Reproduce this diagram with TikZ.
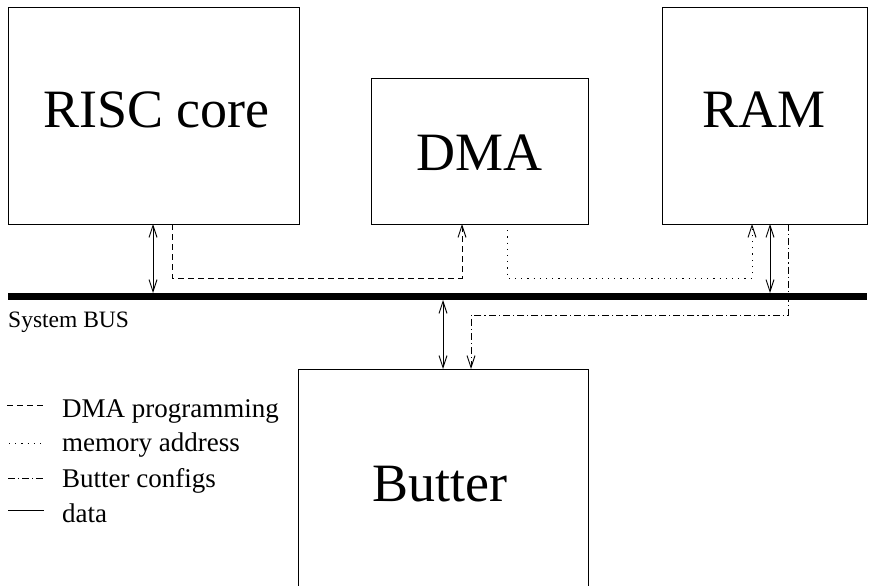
\documentclass[tikz,border=0pt]{standalone}
\usepackage{fontspec}
\setmainfont{Liberation Serif}
\usetikzlibrary{arrows.meta,calc}
\begin{document}
\begin{tikzpicture}[x=1pt,y=-1pt,
  >={Straight Barb[length=12pt,width=8pt]},
  box/.style={draw=black,line width=1pt,inner sep=0pt,outer sep=0pt,fill=none},
  bigtext/.style={inner sep=0pt,anchor=base,font=\fontsize{54}{60}\selectfont},
  legtext/.style={inner sep=0pt,anchor=base west,font=\fontsize{27}{30}\selectfont},
  conn/.style={line width=0.9pt,black},
  datal/.style={conn},
  dmaprog/.style={conn,dash pattern=on 6pt off 4pt},
  memaddr/.style={conn,dash pattern=on 1.2pt off 5pt},
  butcfg/.style={conn,dash pattern=on 7pt off 3pt on 1.2pt off 3pt}
]
\clip (0,0) rectangle (875,586);
\fill[white] (0,0) rectangle (875,586);

% boxes
\node[box,minimum width=291pt,minimum height=216pt] (risc) at (153.5,116) {};
\node[box,minimum width=217pt,minimum height=146pt] (dma) at (479.5,151) {};
\node[box,minimum width=205pt,minimum height=216pt] (ram) at (764.5,116) {};
\node[box,minimum width=290pt,minimum height=300pt] (butter) at (443,519) {};
\node[fill=black,inner sep=0pt,outer sep=0pt,minimum width=859pt,minimum height=7pt] (bus) at (437.5,296.5) {};

% labels
\node[bigtext] (risct) at (156.5,127) {RISC core};
\node[bigtext] (dmat) at (479.5,170) {DMA};
\node[bigtext] (ramt) at (764,127) {RAM};
\node[bigtext] (buttert) at (440,501) {Butter};
\node[inner sep=0pt,anchor=base west,font=\fontsize{23.5}{27}\selectfont] (bust) at (8,327) {System BUS};

% data connectors
\draw[datal,<->] ([xshift=145pt]risc.south west) -- ([xshift=145pt]risc.south west |- bus.north);
\draw[datal,<->] ([xshift=108pt]ram.south west) -- ([xshift=108pt]ram.south west |- bus.north);
\draw[datal,<->] ([xshift=145pt]butter.north west |- bus.south) -- ([xshift=145pt]butter.north west);

% DMA programming
\coordinate (dp1) at ([xshift=164pt]risc.south west);
\coordinate (dp2) at ([xshift=91pt]dma.south west);
\draw[dmaprog,->] (dp1) -- ++(0,54) -| (dp2);

% memory address
\coordinate (ma1) at ([xshift=136pt]dma.south west);
\coordinate (ma2) at ([xshift=90pt]ram.south west);
\draw[memaddr,->] (ma1) -- ++(0,54) -| (ma2);

% Butter configs
\coordinate (bc1) at ([xshift=126pt]ram.south west);
\coordinate (bc2) at ([xshift=173pt]butter.north west);
\draw[butcfg,->] (bc1) -- ++(0,91) -| (bc2);

% legend
\coordinate (l1a) at (7,405); \coordinate (l1b) at (43,405);
\coordinate (l2a) at (9,443); \coordinate (l2b) at (43,443);
\coordinate (l3a) at (8,478); \coordinate (l3b) at (43,478);
\coordinate (l4a) at (8,510); \coordinate (l4b) at (44,510);
\draw[dmaprog] (l1a) -- (l1b);
\draw[memaddr] (l2a) -- (l2b);
\draw[butcfg] (l3a) -- (l3b);
\draw[datal] (l4a) -- (l4b);
\node[legtext] (lg1) at (62,417) {DMA programming};
\node[legtext] (lg2) at (62,451) {memory address};
\node[legtext] (lg3) at (62,487) {Butter configs};
\node[legtext] (lg4) at (62,522) {data};
\end{tikzpicture}
\end{document}
